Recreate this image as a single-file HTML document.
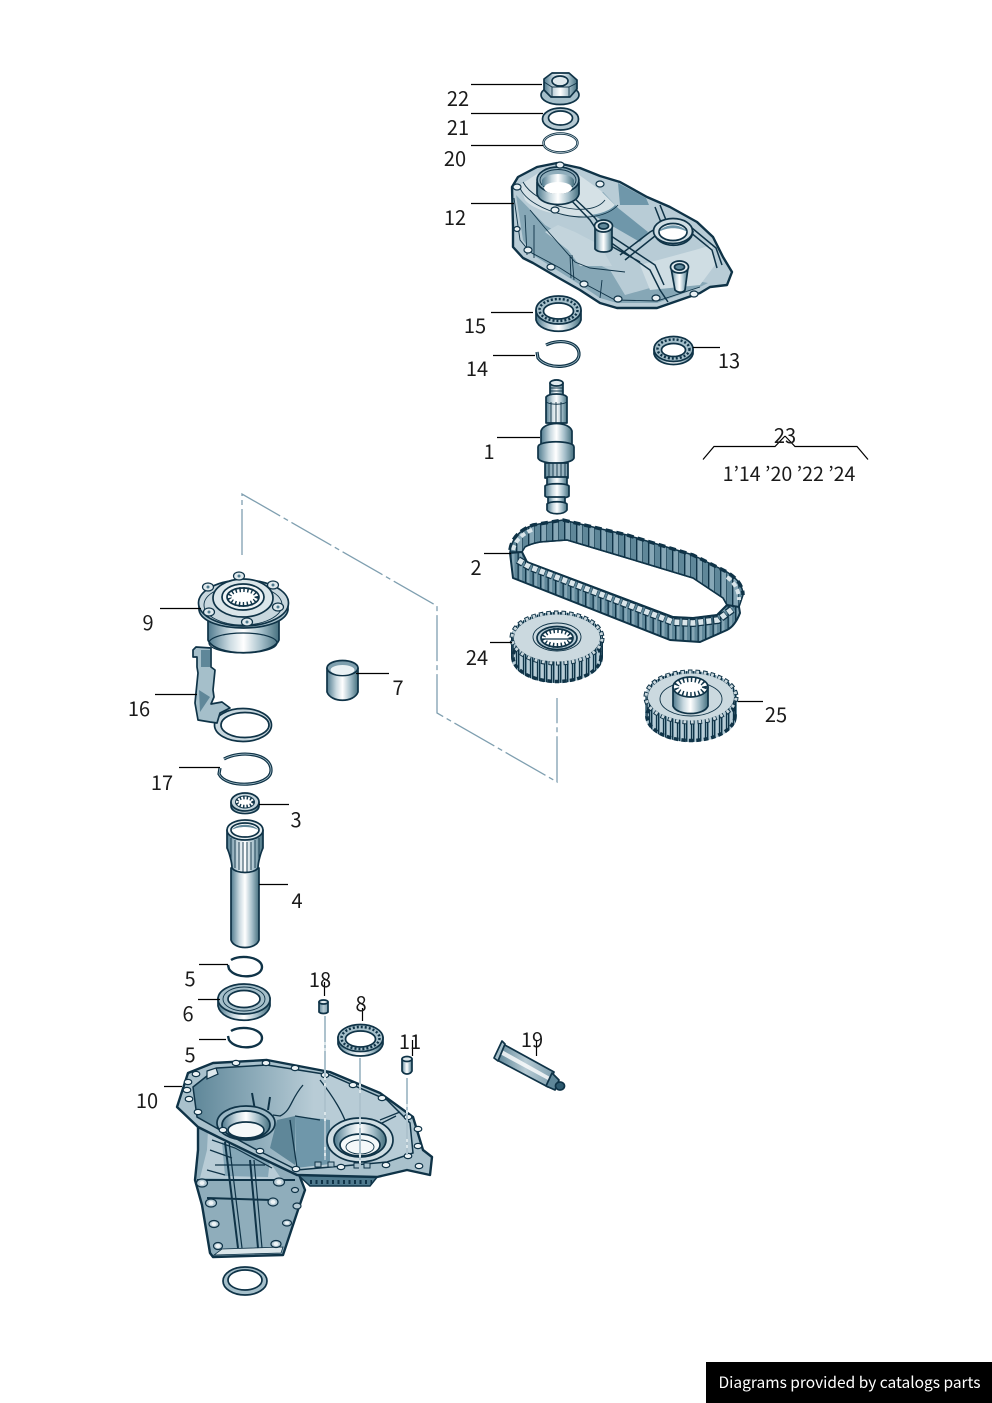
<!DOCTYPE html>
<html><head><meta charset="utf-8"><style>
html,body{margin:0;padding:0;background:#fff}
svg{display:block}
text{font-family:"Noto Sans CJK JP","Liberation Sans",sans-serif;font-size:20px;fill:#1a1a1a;text-anchor:middle}
.l{stroke:#000;stroke-width:1.2;fill:none}
.o{stroke:#0f3347;stroke-width:1.7;stroke-linejoin:round}
.o2{stroke:#0f3347;stroke-width:2.4;stroke-linejoin:round}
.b1{stroke:#0f3347;stroke-width:1.2}
.t{stroke:#0f3347;stroke-width:.9;fill:none}
.d{stroke:#7f9fb0;stroke-width:1.3;fill:none;stroke-dasharray:46 4 5 4}
</style></head><body>
<svg width="992" height="1403" viewBox="0 0 992 1403" xmlns="http://www.w3.org/2000/svg">
<defs>
<linearGradient id="g"><stop offset="0" stop-color="#4f7a8e"/><stop offset=".3" stop-color="#c9d9e0"/><stop offset=".5" stop-color="#fff"/><stop offset=".75" stop-color="#a5bfca"/><stop offset="1" stop-color="#46707f"/></linearGradient>
<linearGradient id="h"><stop offset="0" stop-color="#5f8799"/><stop offset=".5" stop-color="#b6cad3"/><stop offset="1" stop-color="#7e9fae"/></linearGradient>
<linearGradient id="p"><stop offset="0" stop-color="#5f8799"/><stop offset=".3" stop-color="#8fadbb"/><stop offset=".55" stop-color="#b8ccd6"/><stop offset="1" stop-color="#b8ccd6"/></linearGradient>
<pattern id="up" width="12" height="10" patternUnits="userSpaceOnUse">
<rect width="12" height="10" fill="#5f8799"/><rect x="0" width="6" height="10" fill="#86a7b6"/><rect x="0" width="1.400" height="10" fill="#0f3347"/><rect x="6" width=".8" height="10" fill="#24495d"/>
</pattern>
<pattern id="lo" width="7.500" height="10" patternUnits="userSpaceOnUse">
<rect width="7.500" height="10" fill="#5f8799"/><rect x="2" width="2.500" height="10" fill="#86a7b6"/><rect width="1.300" height="10" fill="#0f3347"/>
</pattern>
<pattern id="tt" width="7" height="10" patternUnits="userSpaceOnUse">
<rect width="7" height="10" fill="#7e9fae"/><rect x="2" width="2.500" height="10" fill="#b8ccd6"/><rect width="1.200" height="10" fill="#0f3347"/><rect x="5" width="1" height="10" fill="#0f3347"/>
</pattern>
<clipPath id="c24"><ellipse cx="557" cy="638" rx="46" ry="26"/><ellipse cx="557" cy="657" rx="46" ry="26"/><rect x="511" y="638" width="92" height="19"/></clipPath>
<clipPath id="c25"><ellipse cx="691" cy="697" rx="46" ry="26"/><ellipse cx="691" cy="716" rx="46" ry="26"/><rect x="645" y="697" width="92" height="19"/></clipPath>
</defs>

<!-- dash-dot leaders -->
<path class="d" d="M242 555V494L437 606V713L557 782V698"/>

<!-- 22 nut -->
<ellipse class="o" cx="560" cy="95" rx="19" ry="9.500" fill="#a5bfca"/>
<path class="o" d="M544 79L552 73H569L577 80V89L570 97H551L544 90Z" fill="url(#g)"/>
<path class="t" d="M544 82L552 87H569L577 83M552 87V97M569 87V97"/>
<ellipse class="o" cx="560" cy="81" rx="8" ry="5" fill="#dfe9ed"/>
<!-- 21 -->
<ellipse class="o" cx="560.500" cy="119" rx="18" ry="11" fill="#b5c9d2"/>
<ellipse class="o" cx="560.500" cy="118" rx="12" ry="7" fill="#fff"/>
<!-- 20 -->
<ellipse cx="560.500" cy="143" rx="17" ry="9.500" fill="none" stroke="#0f3347" stroke-width="2.400"/>
<ellipse cx="560.500" cy="143" rx="17" ry="9.500" fill="none" stroke="#cfdde3" stroke-width=".7"/>

<!-- 12 cover -->
<path class="o2" fill="#b8ccd6" d="M512 187L518 177L537 167L557 163L580 168L600 176L620 182L647 197L670 207L697 222L713 237L723 257L732 272L727 285L710 287L700 293L657 308L617 308L600 303L580 290L557 277L533 263L523 258L513 247L513 227Z"/>
<path fill="#86a7b6" d="M516 195L523 240L533 255L560 272L582 286L600 298L617 303L657 303L698 288L708 283L692 280L650 288L625 295L610 270L585 258L570 240L545 225Z"/>
<path fill="#c3d4dc" d="M545 232L568 250L580 266L612 266L600 245L575 232L558 225Z"/>
<path fill="#6f97aa" d="M588 212L640 242L648 232L618 208L603 192L585 200Z"/>
<path fill="#6f97aa" d="M618 183L646 198L649 205L620 205Z"/>
<path fill="#d5e1e6" d="M525 200C540 218 600 222 615 205L600 190L575 172L540 172L520 185Z"/>
<path fill="#cfdde3" d="M640 265L695 250L712 245L715 265L700 285L650 290Z"/>
<path class="t" d="M520 188C530 212 595 230 618 205M523 182C535 205 590 220 605 200M514 198L520 240L530 252L560 268L585 284L615 300L657 301L700 287"/>
<path fill="none" stroke="#0f3347" stroke-width="1.500" d="M566 195L590 220L600 235L650 270L660 290L668 302M571 195L595 218L605 232L655 265L664 285M620 255L650 232L657 228M625 260L655 236M655 207L662 225M660 205L668 225M692 228L716 248L722 265M690 232L712 250L717 268M600 240L640 262"/>
<path class="t" d="M525 215L527 255M534 225L534 258M570 255L571 278M572 255L574 280M602 280L600 298M530 210L545 228L575 262L590 268L625 272"/>
<path class="o" d="M537 182V194C540 208 576 208 579 194V182Z" fill="url(#g)"/>
<ellipse class="o" cx="558" cy="180" rx="21" ry="13" fill="#8fadbb"/>
<ellipse class="t" cx="558" cy="180" rx="18" ry="10.500"/>
<path fill="url(#g)" d="M542 180C546 172 570 172 574 180V186H542Z"/>
<ellipse cx="558" cy="188" rx="14" ry="6" fill="#fff"/>
<path class="o" d="M654 231C655 250 692 250 693 231" fill="url(#g)"/>
<ellipse class="o" cx="673" cy="231" rx="19.500" ry="12.500" fill="#cfdde3"/>
<ellipse class="o" cx="673" cy="232" rx="14" ry="8.500" fill="#fff"/>
<path fill="#6f97aa" d="M659 232C664 223 682 223 687 232C680 227 666 227 659 232Z"/>
<path class="o" d="M595 226V249C598 253 610 253 612 249L612 226Z" fill="url(#g)"/>
<ellipse class="o" cx="603.500" cy="226" rx="9" ry="6" fill="#dfe9ed"/>
<ellipse class="o" cx="603.500" cy="226" rx="5" ry="3" fill="#5f8799"/>
<path class="o" d="M671 268L675 290C678 293 683 293 685 290L688 268Z" fill="url(#g)"/>
<ellipse class="o" cx="679.500" cy="267" rx="9" ry="6" fill="#dfe9ed"/>
<ellipse class="o" cx="679.500" cy="267" rx="5" ry="3" fill="#5f8799"/>
<g class="b1" fill="#eaf1f4">
<ellipse cx="517" cy="187" rx="4" ry="3"/><ellipse cx="560" cy="165" rx="4" ry="3"/><ellipse cx="600" cy="184" rx="4" ry="3"/><ellipse cx="555" cy="210" rx="4" ry="3"/><ellipse cx="517" cy="229" rx="3" ry="2.500"/><ellipse cx="528" cy="250" rx="4" ry="3"/><ellipse cx="551" cy="267" rx="4" ry="3"/><ellipse cx="584" cy="284" rx="4" ry="3"/><ellipse cx="618" cy="299" rx="4" ry="3"/><ellipse cx="656" cy="298" rx="4" ry="3"/><ellipse cx="694" cy="294" rx="4" ry="3"/>
</g>

<!-- 15 bearing -->
<path class="o" d="M536 310V320C540 335 577 335 581 320V310Z" fill="url(#g)"/>
<ellipse class="o" cx="558.500" cy="310" rx="22.500" ry="14" fill="#a5bfca"/>
<ellipse cx="558.500" cy="310" rx="19" ry="11" fill="none" stroke="#0f3347" stroke-width="2.500" stroke-dasharray="2 2"/>
<ellipse class="o" cx="558.500" cy="311" rx="15" ry="8" fill="#fff"/>
<!-- 13 bearing -->
<path class="o" d="M654 349V354C658 368 689 368 693 354V349Z" fill="url(#g)"/>
<ellipse class="o" cx="673.500" cy="349" rx="19.500" ry="12.500" fill="#a5bfca"/>
<ellipse cx="673.500" cy="349" rx="16" ry="9.500" fill="none" stroke="#0f3347" stroke-width="2.500" stroke-dasharray="2 2"/>
<ellipse class="o" cx="673.500" cy="350" rx="12" ry="6.500" fill="#fff"/>
<!-- 14 snap ring -->
<path d="M546 345C560 338 580 342 579 355C578 368 548 371 538 358L537 352" fill="none" stroke="#0f3347" stroke-width="3.200"/>
<path d="M546 345C560 338 580 342 579 355C578 368 548 371 538 358L537 352" fill="none" stroke="#a5bfca" stroke-width=".8"/>

<!-- 1 shaft -->
<path class="o" d="M550 383C552 379 561 379 563 383V396H550Z" fill="url(#g)"/>
<ellipse class="o" cx="556.500" cy="383" rx="6.500" ry="3" fill="#dfe9ed"/>
<path class="t" d="M550 388H563M550 391H563"/>
<path class="o" d="M546 397C549 393 564 393 567 397V423H546Z" fill="url(#g)"/>
<path class="t" d="M551 402V423M556 402V423M561 402V423M546 402C551 405 562 405 567 402"/>
<path class="o" d="M541 431C544 421 569 421 572 431V446H541Z" fill="url(#g)"/>
<path class="o" d="M538 447C538 440 574 440 574 447V458C572 465 540 465 538 458Z" fill="url(#g)"/>
<path class="o" d="M545 463H568V478H545Z" fill="url(#h)"/>
<path class="t" d="M549 463V478M553 463V478M557 463V478M561 463V478M565 463V478"/>
<path class="o" d="M547 477H567V485H547Z" fill="url(#g)"/>
<path class="o" d="M545 486C548 483 566 483 569 486V496C566 499 548 499 545 496Z" fill="url(#g)"/>
<path class="o" d="M548 497H565V505H548Z" fill="url(#g)"/>
<path class="o" d="M547 504C550 501 564 501 567 504V510C564 515 550 515 547 510Z" fill="url(#g)"/>

<!-- 2 chain -->
<path fill="url(#up)" stroke="#0f3347" stroke-width="1.500" stroke-linejoin="round" d="M510 552Q512 533 533 525L563 520L627 535L693 555L727 572Q743 582 743 595L739 607L727 605L723 598L693 578L627 558L567 540L540 542Q530 544 525 547L522 552Z"/>
<path fill="url(#lo)" stroke="#0f3347" stroke-width="2" stroke-linejoin="round" d="M510 553L522 552L527 562L673 617L693 618L717 615L727 605L739 607L740 613Q735 626 727 630L700 642L670 640L513 578Z"/>
<path fill="none" stroke="#0f3347" stroke-width="8" stroke-dasharray="6 2" d="M518 560L530 567L673 622L693 623L718 620L734 608"/>
<path fill="none" stroke="#d9e5ea" stroke-width="5.500" stroke-dasharray="5 3" stroke-dashoffset="-.5" d="M518 560L530 567L673 622L693 623L718 620L734 608"/>
<path fill="none" stroke="#0f3347" stroke-width="3.500" stroke-dasharray="7 4" d="M510 550Q512 533 533 525L563 520L627 535L693 555L727 572Q743 582 743 595"/>
<path fill="none" stroke="#d9e5ea" stroke-width="4" stroke-dasharray="5 3" d="M513 550Q516 536 534 529"/>
<path fill="none" stroke="#d9e5ea" stroke-width="4" stroke-dasharray="5 3" d="M727 577Q739 586 739 600"/>
<path fill="none" stroke="#0f3347" stroke-width="1.500" d="M525 547Q530 544 540 542L567 540L627 558L693 578L723 598L727 605L717 615L693 618L673 617L527 562"/>

<!-- 24 gear -->
<g clip-path="url(#c24)"><rect x="505" y="610" width="104" height="80" fill="url(#tt)"/></g>
<ellipse cx="557" cy="657" rx="44" ry="24.500" fill="none" stroke="#0f3347" stroke-width="3.500" stroke-dasharray="4.500 3"/>
<path d="M513 638V657M601 638V657" stroke="#0f3347" stroke-width="1.500"/>
<ellipse cx="557" cy="638" rx="45" ry="25" fill="none" stroke="#0f3347" stroke-width="5" stroke-dasharray="4.500 3"/>
<ellipse cx="557" cy="638" rx="45" ry="25" fill="none" stroke="#cbd9df" stroke-width="3" stroke-dasharray="2.800 4.700" stroke-dashoffset="-.8"/>
<ellipse cx="557" cy="638" rx="43" ry="23.500" fill="#cbd9df"/>
<ellipse class="t" cx="557" cy="637" rx="24" ry="14"/>
<ellipse class="o" cx="557" cy="638" rx="20" ry="11.500" fill="#b8ccd6"/>
<ellipse class="o" cx="557" cy="638" rx="16" ry="9" fill="#fff"/>
<ellipse cx="557" cy="638" rx="14" ry="7.500" fill="none" stroke="#12364a" stroke-width="5" stroke-dasharray="1.500 2.500"/>
<path d="M541 639H573" stroke="#12364a" stroke-width="1.200"/>

<!-- 25 gear -->
<g clip-path="url(#c25)"><rect x="640" y="670" width="104" height="80" fill="url(#tt)"/></g>
<ellipse cx="691" cy="716" rx="44" ry="24.500" fill="none" stroke="#0f3347" stroke-width="3.500" stroke-dasharray="4.500 3"/>
<path d="M647 697V716M735 697V716" stroke="#0f3347" stroke-width="1.500"/>
<ellipse cx="691" cy="697" rx="45" ry="25" fill="none" stroke="#0f3347" stroke-width="5" stroke-dasharray="4.500 3"/>
<ellipse cx="691" cy="697" rx="45" ry="25" fill="none" stroke="#cbd9df" stroke-width="3" stroke-dasharray="2.800 4.700" stroke-dashoffset="-.8"/>
<ellipse cx="691" cy="697" rx="43" ry="23.500" fill="#cbd9df"/>
<ellipse class="t" cx="691" cy="699" rx="31" ry="17"/>
<path class="o" d="M673 687V706C677 716 704 716 708 706V687Z" fill="url(#g)"/>
<ellipse class="o" cx="690.500" cy="687" rx="17.500" ry="10" fill="#fff"/>
<ellipse cx="690.500" cy="687" rx="14" ry="7.500" fill="none" stroke="#12364a" stroke-width="5" stroke-dasharray="1.500 2.500"/>

<!-- 9 -->
<path class="o" d="M208 610V640C215 657 272 657 279 640V610Z" fill="url(#g)"/>
<ellipse cx="243" cy="643" rx="34" ry="10" fill="none" stroke="#0f3347" stroke-width="1.200"/>
<path class="o" d="M199 600V610C203 634 284 634 288 610V600Z" fill="#a5bfca"/>
<ellipse class="o" cx="243.500" cy="603" rx="45" ry="23" fill="#c8d7de"/>
<ellipse class="t" cx="243" cy="605" rx="39" ry="20"/>
<ellipse class="o" cx="243" cy="598" rx="30" ry="19" fill="#dbe6ea"/>
<ellipse class="o" cx="243" cy="597" rx="21" ry="13" fill="#eff4f6"/>
<ellipse class="o" cx="243" cy="597" rx="16" ry="9" fill="#fff"/>
<ellipse cx="243" cy="597" rx="14" ry="7.500" fill="none" stroke="#12364a" stroke-width="5" stroke-dasharray="1.500 2.500"/>
<g class="b1" fill="#dfe9ed">
<ellipse cx="239" cy="576" rx="5.500" ry="4"/><ellipse cx="208" cy="587" rx="5.500" ry="4"/><ellipse cx="273" cy="585" rx="5.500" ry="4"/><ellipse cx="278" cy="607" rx="5.500" ry="4"/><ellipse cx="247" cy="622" rx="5.500" ry="4"/><ellipse cx="209" cy="612" rx="5.500" ry="4"/>
</g>
<g fill="#4f7a8e"><circle cx="239" cy="576" r="1.500"/><circle cx="208" cy="587" r="1.500"/><circle cx="273" cy="585" r="1.500"/><circle cx="278" cy="607" r="1.500"/><circle cx="247" cy="622" r="1.500"/><circle cx="209" cy="612" r="1.500"/></g>

<!-- 16 -->
<ellipse class="o" cx="243" cy="725" rx="28.500" ry="16.500" fill="#c8d7de"/>
<path class="o" fill="#a5bfca" d="M193 650L196 647L211 648L211 667L215 670L213 690L214 697L211 704L222 702L230 708L220 713L217 723L210 722L198 720L195 703L198 673L197 667L197 657L193 657Z"/>
<path fill="#5f8799" d="M201 650L210 650L210 667L201 667ZM199 690L210 697L200 712Z"/>
<ellipse class="o" cx="245" cy="725" rx="24" ry="12.500" fill="#fff"/>

<!-- 7 -->
<path class="o" d="M327 668V692C331 703 354 703 358 692V668Z" fill="url(#g)"/>
<ellipse class="o" cx="342.500" cy="668" rx="15.500" ry="7.500" fill="#7e9fae"/>
<ellipse cx="342.500" cy="670" rx="12" ry="5" fill="#eaf1f4"/>

<!-- 17 -->
<path d="M224 759C240 750 272 753 271 771C270 787 226 789 219 774L220 768" fill="none" stroke="#0f3347" stroke-width="3.200"/>
<path d="M224 759C240 750 272 753 271 771C270 787 226 789 219 774L220 768" fill="none" stroke="#a5bfca" stroke-width=".8"/>

<!-- 3 -->
<path class="o" d="M231 802V806C231 816 259 816 259 806V802Z" fill="url(#g)"/>
<ellipse class="o" cx="245" cy="802" rx="14" ry="9" fill="#c5d5dc"/>
<ellipse cx="245" cy="802" rx="9.500" ry="6" fill="#fff" stroke="#12364a"/>
<ellipse cx="245" cy="802" rx="8" ry="4.500" fill="none" stroke="#12364a" stroke-width="3.500" stroke-dasharray="1.500 2"/>

<!-- 4 -->
<path class="o" d="M231 868V940C234 950 256 950 259 940V868Z" fill="url(#g)"/>
<path class="o" d="M227 830V848C229 852 232 862 232 868C236 874 254 874 258 868C258 862 261 852 263 848V830Z" fill="url(#g)"/>
<path class="t" d="M231 838V860M235 840V868M239 842V870M243 842V872M247 842V872M251 842V870M255 840V868M259 838V860"/>
<ellipse class="o" cx="245" cy="830" rx="18" ry="10" fill="#e6eef1"/>
<ellipse class="o" cx="245" cy="830" rx="14" ry="7" fill="#fff"/>
<path d="M232 830C236 823 254 823 258 830C252 826 238 826 232 830Z" fill="#5f8799"/>

<!-- 5, 6 -->
<path d="M231 960C240 954 262 957 262 967C262 978 236 980 229 969L228 965" fill="none" stroke="#0f3347" stroke-width="2.400"/>
<path d="M231 1031C240 1025 262 1028 262 1038C262 1049 236 1051 229 1040L228 1036" fill="none" stroke="#0f3347" stroke-width="2.400"/>
<path class="o" d="M218 998V1006C222 1025 266 1025 270 1006V998Z" fill="url(#g)"/>
<ellipse class="o" cx="244" cy="999" rx="26" ry="15" fill="#a5bfca"/>
<ellipse class="t" cx="244" cy="999" rx="21" ry="12"/>
<ellipse class="o" cx="244" cy="999" rx="16" ry="8.500" fill="#fff"/>

<!-- 18 -->
<path class="o" d="M319 1002H328V1012C326 1014 321 1014 319 1012Z" fill="url(#h)"/>
<ellipse class="o" cx="323.500" cy="1002" rx="4.500" ry="2" fill="#dfe9ed"/>
<!-- 8 -->
<path class="o" d="M338 1037V1044C342 1060 379 1060 383 1044V1037Z" fill="url(#g)"/>
<ellipse class="o" cx="360.500" cy="1038" rx="22.500" ry="13.500" fill="#a5bfca"/>
<ellipse cx="360.500" cy="1038" rx="19" ry="11" fill="none" stroke="#0f3347" stroke-width="2.500" stroke-dasharray="2 2"/>
<ellipse class="o" cx="360.500" cy="1039" rx="15" ry="8" fill="#fff"/>
<!-- 11 -->
<path class="o" d="M402 1059V1071C404 1075 410 1075 412 1071V1059Z" fill="url(#g)"/>
<ellipse class="o" cx="407" cy="1059" rx="5" ry="2.500" fill="#dfe9ed"/>

<!-- 19 tube -->
<path class="o" d="M503 1044L554 1072L548 1087L497 1060Z" fill="url(#h)"/>
<path fill="#fff" opacity=".8" d="M502 1050L550 1077L548 1080L500 1054Z"/>
<path class="o" d="M502 1041L505 1044L498 1061L494 1058Z" fill="#a5bfca"/>
<path class="o" d="M552 1073L559 1080L555 1090L546 1086Z" fill="#5f8799"/>
<ellipse class="o" cx="560" cy="1086" rx="4.500" ry="4" fill="#2e5a6f"/>

<!-- 10 lower body -->
<path class="o2" fill="#8fadbb" d="M198 1125L198 1150L195 1180L202 1205L210 1253L213 1257L283 1255L298 1210L305 1190L298 1172L255 1150Z"/>
<path fill="#b8ccd6" d="M207 1150L200 1178L282 1180L272 1165L240 1142L208 1130Z"/>
<path fill="#6f97aa" d="M222 1142L270 1160L268 1177L225 1176Z" opacity=".7"/>
<path d="M214 1255L281 1253L283 1247L222 1249Z" fill="#dbe6ea" stroke="#0f3347" stroke-width=".8"/>
<path stroke="#0f3347" stroke-width="2" fill="none" d="M225 1142L238 1248M250 1160L258 1248M197 1180H295M207 1198L272 1200"/>
<path stroke="#0f3347" stroke-width="1.200" fill="none" d="M229 1142L242 1248M254 1160L262 1248M212 1140L235 1148L272 1168M210 1150L232 1158M215 1165H265M207 1170L225 1175"/>
<g class="b1" fill="#b8ccd6">
<ellipse cx="202" cy="1183" rx="5.500" ry="4"/><ellipse cx="279" cy="1182" rx="5.500" ry="4"/><ellipse cx="211" cy="1203" rx="5.500" ry="4"/><ellipse cx="273" cy="1202" rx="5" ry="4"/><ellipse cx="214" cy="1224" rx="5" ry="3.500"/><ellipse cx="287" cy="1223" rx="4.500" ry="3"/><ellipse cx="218" cy="1246" rx="4.500" ry="3.500"/><ellipse cx="276" cy="1244" rx="5" ry="3.500"/><ellipse cx="297" cy="1206" rx="4" ry="3"/><ellipse cx="295" cy="1190" rx="3.500" ry="2.500"/>
</g>
<g fill="#eef4f6"><ellipse cx="202" cy="1183" rx="2.500" ry="2"/><ellipse cx="279" cy="1182" rx="2.500" ry="2"/><ellipse cx="211" cy="1203" rx="2.500" ry="2"/><ellipse cx="273" cy="1202" rx="2.500" ry="2"/><ellipse cx="214" cy="1224" rx="2.500" ry="2"/><ellipse cx="287" cy="1223" rx="2" ry="1.500"/><ellipse cx="218" cy="1246" rx="2.500" ry="2"/><ellipse cx="276" cy="1244" rx="2.500" ry="2"/></g>

<!-- 10 underside teeth -->
<path fill="#4f7a8e" stroke="#0f3347" stroke-width="1.500" d="M298 1175L310 1186L370 1186L378 1176Z"/>
<path stroke="#0f3347" stroke-width="4" stroke-dasharray="2 3.500" fill="none" d="M310 1182H372"/>

<!-- 10 flange -->
<path class="o2" fill="#a9c1cc" d="M177 1107L188 1073L213 1063L267 1060L330 1072L380 1093L413 1117L423 1150L432 1157L430 1175L407 1170L377 1177L297 1175L255 1155L220 1138L198 1127Z"/>
<path fill="url(#p)" stroke="#0f3347" stroke-width="1.500" d="M193 1087L217 1068L267 1065L330 1075L387 1100L410 1123L413 1153L387 1162L297 1170L257 1150L220 1130L197 1117Z"/>
<path fill="#5f8799" d="M277 1120L295 1116L295 1165L270 1148Z"/>
<path fill="#6f97aa" d="M295 1116L330 1120L330 1164L296 1168Z"/>
<path class="t" style="stroke-width:1.300" d="M273 1115L280 1116C292 1110 290 1100 303 1085M290 1120L297 1168M320 1080C332 1095 345 1115 348 1130M380 1120L400 1112M378 1125L396 1116M295 1116L320 1120"/>
<path d="M252 1093L255 1110M270 1097L268 1110" stroke="#0f3347" stroke-width="2" fill="none"/>
<path class="b1" d="M207 1071L216 1068L218 1074L207 1079Z" fill="#dfe9ed"/>
<!-- bores -->
<ellipse class="o" cx="246" cy="1123" rx="29" ry="17" fill="#9cb8c5"/>
<ellipse class="o" cx="246" cy="1125" rx="24" ry="14" fill="url(#g)"/>
<ellipse class="o" cx="246" cy="1130" rx="18" ry="8" fill="#f4f8f9"/>
<ellipse class="o" cx="360" cy="1140" rx="33" ry="22" fill="#cfdde3"/>
<ellipse class="o" cx="360" cy="1140" rx="26" ry="17" fill="url(#g)"/>
<ellipse class="o" cx="360" cy="1145" rx="20" ry="11" fill="#f4f8f9"/>
<ellipse class="t" cx="360" cy="1147" rx="14" ry="7"/>
<!-- flange bolts -->
<g class="b1" fill="#eef4f6">
<ellipse cx="196" cy="1074" rx="3.800" ry="2.600"/><ellipse cx="236" cy="1063" rx="3.800" ry="2.600"/><ellipse cx="266" cy="1063" rx="3.800" ry="2.600"/><ellipse cx="295" cy="1068" rx="3.800" ry="2.600"/><ellipse cx="325" cy="1075" rx="3.800" ry="2.600"/><ellipse cx="353" cy="1085" rx="3.800" ry="2.600"/><ellipse cx="382" cy="1098" rx="3.800" ry="2.600"/><ellipse cx="408" cy="1117" rx="3.800" ry="2.600"/><ellipse cx="418" cy="1129" rx="3.800" ry="2.600"/><ellipse cx="418" cy="1146" rx="3.800" ry="2.600"/><ellipse cx="408" cy="1156" rx="3.800" ry="2.600"/><ellipse cx="419" cy="1166" rx="3.800" ry="2.600"/><ellipse cx="386" cy="1165" rx="3.800" ry="2.600"/><ellipse cx="341" cy="1167" rx="3.800" ry="2.600"/><ellipse cx="296" cy="1169" rx="3.800" ry="2.600"/><ellipse cx="260" cy="1151" rx="3.800" ry="2.600"/><ellipse cx="223" cy="1130" rx="3.800" ry="2.600"/><ellipse cx="198" cy="1112" rx="3.800" ry="2.600"/><ellipse cx="189" cy="1099" rx="3.800" ry="2.600"/><ellipse cx="187" cy="1090" rx="3.800" ry="2.600"/><ellipse cx="188" cy="1082" rx="3.800" ry="2.600"/>
</g>
<path stroke="#0f3347" stroke-width="1" fill="#a9c1cc" d="M315 1162h6v5h-6zM328 1162h6v5h-6zM354 1163h6v5h-6zM364 1163h6v5h-6z"/>
<!-- white assembly lines -->
<path d="M325 1016V1160M360 1058V1170M407 1078V1155" stroke="#dbe6ea" stroke-width="2" fill="none"/>
<path d="M325 1016V1160M360 1058V1170M407 1078V1155" stroke="#7f9fb0" stroke-width="1" fill="none" stroke-dasharray="26 3 3 3"/>

<!-- bottom seal -->
<ellipse class="o" cx="245" cy="1281" rx="22" ry="14" fill="#a5bfca"/>
<ellipse class="o" cx="245" cy="1280" rx="17" ry="10" fill="#fff"/>

<!-- leader lines -->
<path class="l" d="M471 84.500H542M471 113.500H543M471 145.500H543M471 203.500H514M491 312.500H533M493 355.500H535M693 347.500H720M497 437.500H540M484 553.500H511M490 642.500H512M738 701.500H763M160 608.500H201M155 694.500H197M179 767.500H220M259 804.500H289M259 884.500H288M199 964.500H228M198 999.500H220M199 1039.500H226M164 1086.500H182M356 673.500H389M324.500 982V996M362.500 1008V1021M412.500 1040V1056M536.500 1040V1056"/>
<path class="l" d="M703 459.500L714 446.500H775L785 436M785 436L795 446.500H857L868 459.500"/>

<!-- labels -->
<text x="458" y="106">22</text><text x="458" y="135">21</text><text x="455" y="166">20</text><text x="455" y="225">12</text>
<text x="475" y="333">15</text><text x="477" y="376">14</text><text x="729" y="368">13</text><text x="489" y="459">1</text>
<text x="785" y="443">23</text><text x="789" y="481" style="font-size:19.600px">1’14 ’20 ’22 ’24</text>
<text x="476" y="575">2</text><text x="477" y="665">24</text><text x="776" y="722">25</text>
<text x="148" y="630">9</text><text x="139" y="716">16</text><text x="398" y="695">7</text><text x="162" y="790">17</text>
<text x="296" y="827">3</text><text x="297" y="908">4</text><text x="190" y="986">5</text><text x="188" y="1021">6</text><text x="190" y="1062">5</text>
<text x="320" y="987">18</text><text x="361" y="1011">8</text><text x="410" y="1049">11</text><text x="532" y="1047">19</text><text x="147" y="1108">10</text>

<!-- footer -->
<rect x="706" y="1362" width="286" height="41" fill="#000"/>
<text x="849.500" y="1388" style="font-size:15.500px;fill:#fff">Diagrams provided by catalogs parts</text>
</svg>
</body></html>
